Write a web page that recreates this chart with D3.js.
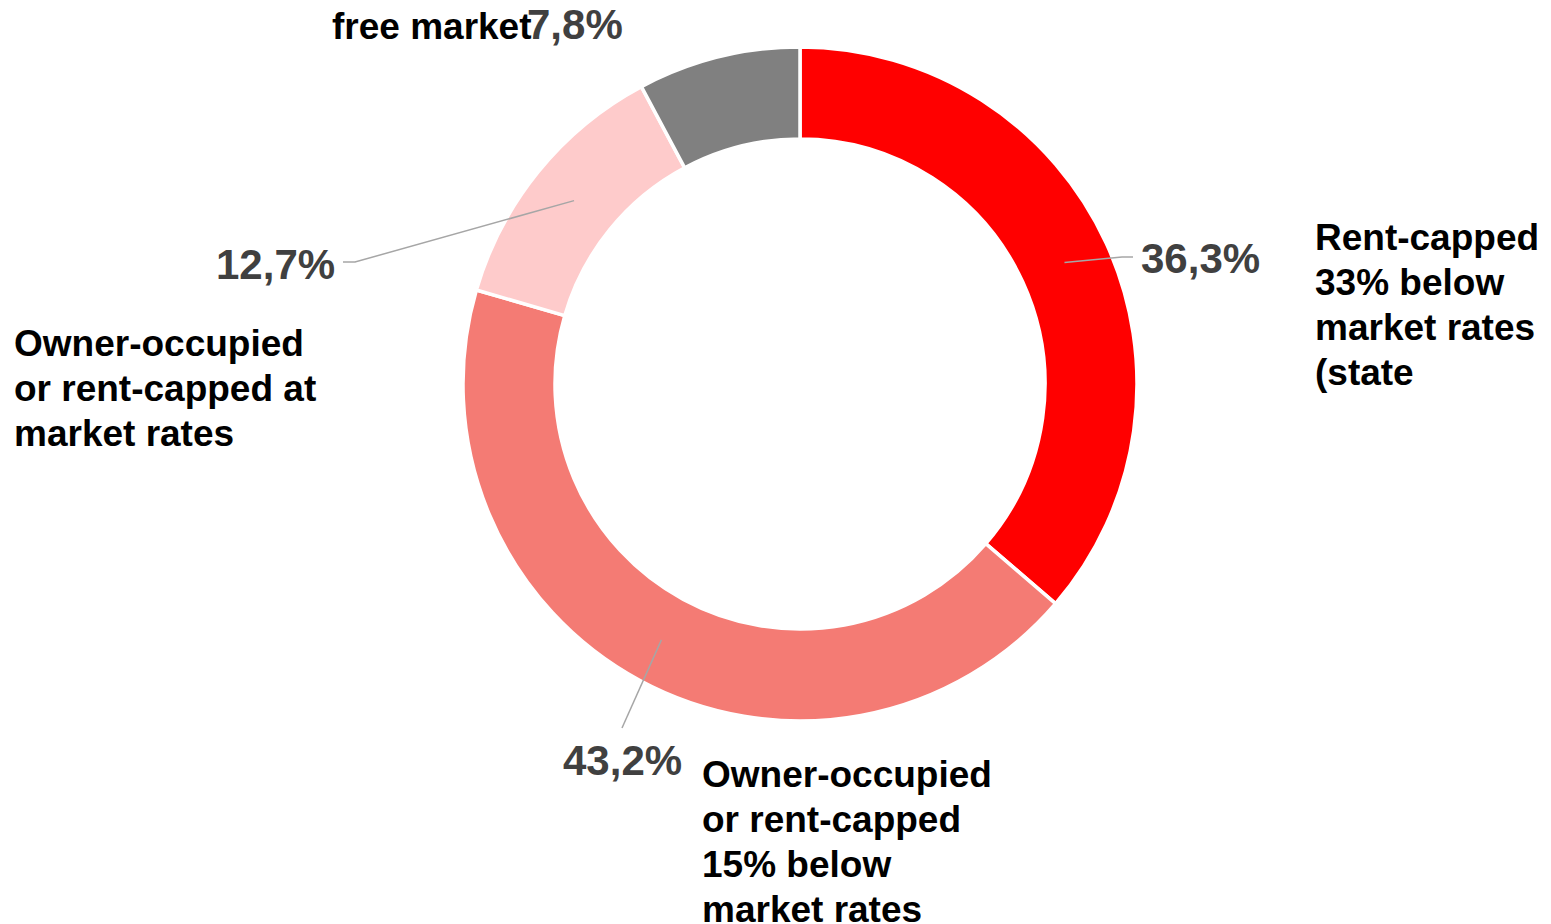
<!DOCTYPE html>
<html>
<head>
<meta charset="utf-8">
<script src="https://cdn.jsdelivr.net/npm/d3@7"></script>
<style>
  html, body { margin: 0; padding: 0; background: #fff; }
  svg { display: block; font-family: "Liberation Sans", Arial, sans-serif; font-weight: bold; }
</style>
</head>
<body>
<div id="chart"></div>
<script>
// data
const categories = ["Rent-capped 33% below market rates (state", "Owner-occupied or rent-capped 15% below market rates", "Owner-occupied or rent-capped at market rates", "free market"];
const values = [36.3, 43.2, 12.7, 7.8];
const colors = ["#FF0000", "#F47B74", "#FECBCB", "#808080"];
const categoryLines = [
    ["Rent-capped", "33% below", "market rates", "(state"],
    ["Owner-occupied", "or rent-capped", "15% below", "market rates"],
    ["Owner-occupied", "or rent-capped at", "market rates"],
    ["free market"]
];

// layout of labels (value label anchor, leader elbow, category block)
const labelLayout = [
    { valX: 1141, valY: 273, elbow: [1122, 257], end: [1133, 257], catX: 1315, catY: 250 },
    { valX: 563, valY: 775, elbow: [622, 728], end: [622, 728], catX: 702, catY: 787 },
    { valX: 216, valY: 279, elbow: [355, 262], end: [343, 262], catX: 14, catY: 356 },
    { valX: 527, valY: 39, elbow: null, end: null, catX: 332, catY: 39 }
];

const width = 1551, height = 924;
const cx = 800, cy = 384;
const outerR = 337, innerR = 245;

const svg = d3.select("#chart").append("svg")
    .attr("width", width)
    .attr("height", height);

const pie = d3.pie().sort(null).value(d => d);
const arcs = pie(values);

const arc = d3.arc().innerRadius(innerR).outerRadius(outerR);
const midArc = d3.arc().innerRadius((innerR + outerR) / 2).outerRadius((innerR + outerR) / 2);

const g = svg.append("g").attr("transform", `translate(${cx},${cy})`);

g.selectAll("path.slice")
    .data(arcs)
    .enter().append("path")
    .attr("class", "slice")
    .attr("d", arc)
    .attr("fill", (d, i) => colors[i])
    .attr("stroke", "#fff")
    .attr("stroke-width", 3.5)
    .attr("stroke-linejoin", "miter");

// leader lines
arcs.forEach((d, i) => {
    const L = labelLayout[i];
    if (!L.elbow) return;
    const c = midArc.centroid(d);
    const pts = [[c[0] + cx, c[1] + cy], L.elbow, L.end];
    svg.append("path")
        .attr("d", d3.line()(pts))
        .attr("fill", "none")
        .attr("stroke", "#A6A6A6")
        .attr("stroke-width", 1.5);
});

const fmt = v => d3.format(".1f")(v).replace(".", ",") + "%";

// category labels
categoryLines.forEach((lines, i) => {
    const L = labelLayout[i];
    const t = svg.append("text")
        .attr("x", L.catX)
        .attr("y", L.catY)
        .attr("fill", "#000")
        .style("font-size", "37px");
    lines.forEach((ln, j) => {
        t.append("tspan")
            .attr("x", L.catX)
            .attr("dy", j === 0 ? 0 : 45)
            .text(ln);
    });
});

// value labels
values.forEach((v, i) => {
    const L = labelLayout[i];
    svg.append("text")
        .attr("x", L.valX)
        .attr("y", L.valY)
        .attr("fill", "#404040")
        .style("font-size", "42px")
        .text(fmt(v));
});
</script>
</body>
</html>
